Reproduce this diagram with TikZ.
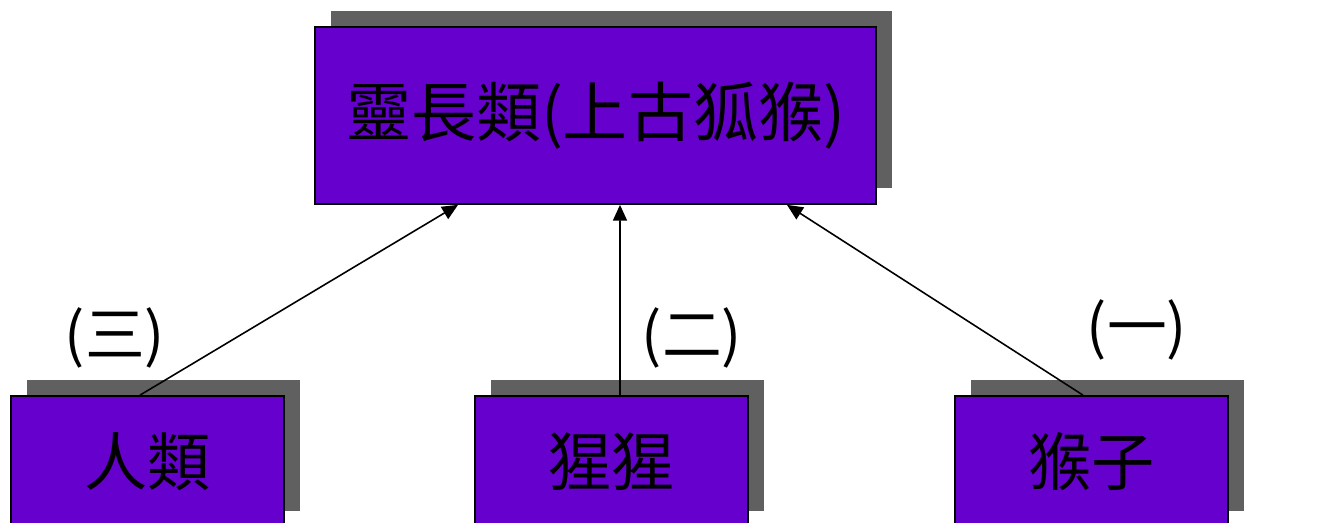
\documentclass[tikz,border=0pt]{standalone}
\usepackage{fontspec}
\newfontfamily\cjk{Noto Sans CJK TC}
\usetikzlibrary{arrows.meta,shadows}
\definecolor{boxpurple}{HTML}{6600CC}
\definecolor{shadowgray}{HTML}{606060}
\begin{document}
\begin{tikzpicture}[x=0.02cm,y=-0.02cm,
  box/.style={draw=black,line width=1pt,fill=boxpurple,inner sep=0pt,
    general shadow={fill=shadowgray,shadow xshift=0.32cm,shadow yshift=0.32cm}},
  bigbox/.style={box,minimum width=11.22cm,minimum height=3.54cm,font=\cjk\fontsize{37}{40}\selectfont},
  smallbox/.style={box,minimum width=5.46cm,minimum height=2.62cm,font=\cjk\fontsize{36}{40}\selectfont},
  lbl/.style={font=\cjk\fontsize{34}{38}\selectfont,inner sep=0pt},
  arr/.style={line width=0.9pt,-{Triangle[length=9pt,width=8pt]}}]
\useasboundingbox (0,0) rectangle (1329,522);
\node[bigbox] (top) at (595.5,115.5) {\raisebox{-0.1em}{靈長類(上古狐猴)}};
\node[smallbox] (h) at (147.5,461.5) {\raisebox{-0.08em}{人類}};
\node[smallbox] (g) at (611.5,461.5) {\raisebox{-0.08em}{猩猩}};
\node[smallbox] (m) at (1091.5,461.5) {\raisebox{-0.08em}{猴子}};
\node[lbl] (l3) at (115,338) {(三)};
\node[lbl] (l2) at (692,338) {(二)};
\node[lbl] (l1) at (1137,330) {(一)};
\draw[arr] ([xshift=-0.15cm]h.north) -- ([xshift=-2.75cm]top.south);
\draw[arr] ([xshift=0.17cm]g.north) -- ([xshift=0.49cm]top.south);
\draw[arr] ([xshift=-0.17cm]m.north) -- ([xshift=3.83cm]top.south);
\end{tikzpicture}
\end{document}
